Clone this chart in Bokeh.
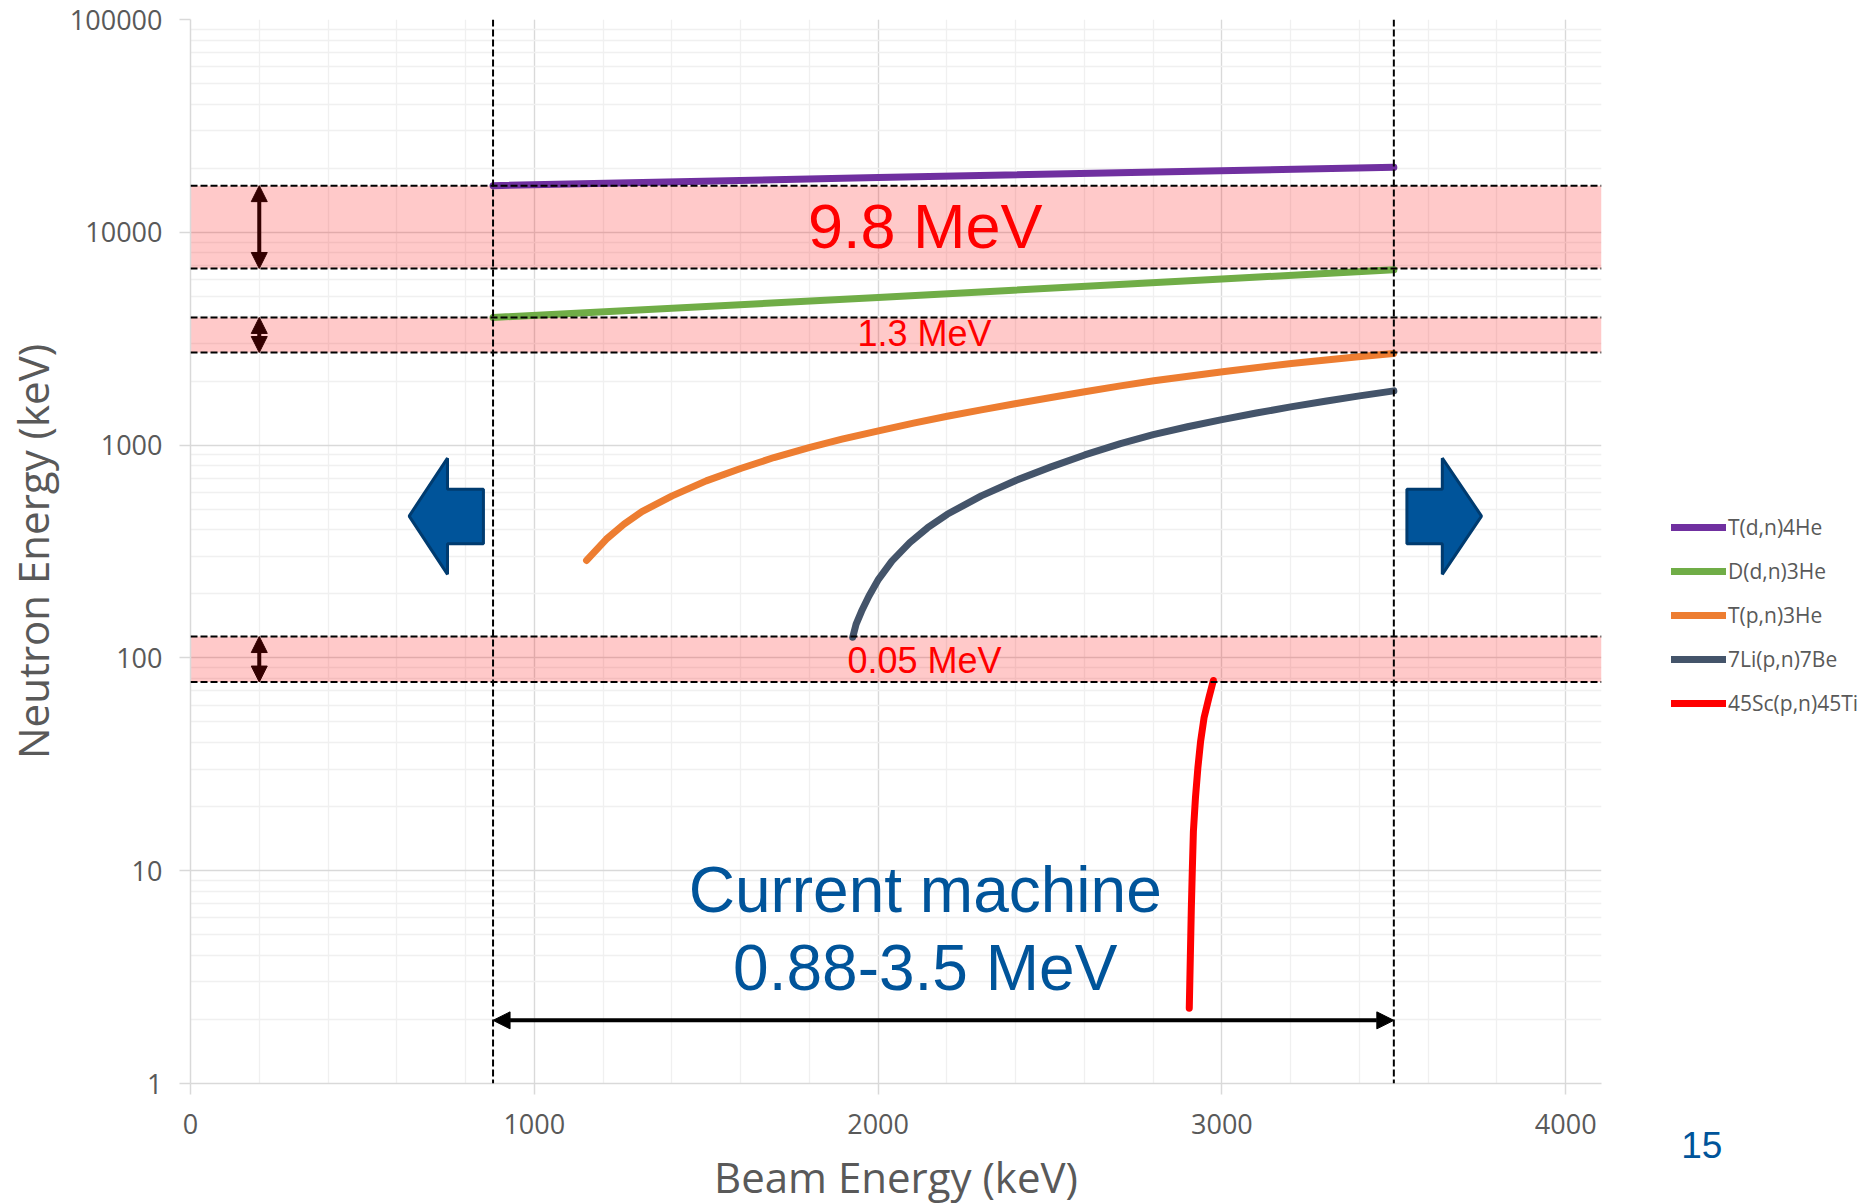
from bokeh.plotting import figure
from bokeh.models import (Range1d, FixedTicker, NumeralTickFormatter, Span, Arrow,
                          NormalHead, Label, Legend, LegendItem)
from bokeh.embed import file_html
from bokeh.resources import INLINE

# ---------------- data ----------------
series_names = ["T(d,n)4He", "D(d,n)3He", "T(p,n)3He", "7Li(p,n)7Be", "45Sc(p,n)45Ti"]
series_colors = ["#7030A0", "#70AD47", "#ED7D31", "#44546A", "#FF0000"]

# beam energy (keV) / neutron energy (keV)
tdn_beam = [880, 2000, 3500]
tdn_en = [16570, 18100, 20200]

ddn_beam = [880, 2000, 3000, 3500]
ddn_en = [3980, 4940, 6030, 6670]

tpn_beam = [1152, 1209, 1261, 1313, 1401, 1500, 1602, 1697, 1799, 1895, 2001, 2103,
            2201, 2300, 2402, 2503, 2601, 2705, 2802, 3002, 3202, 3404, 3499]
tpn_en = [287, 361, 425, 487, 577, 679, 778, 874, 974, 1066, 1167, 1268,
          1367, 1464, 1569, 1673, 1780, 1899, 2005, 2210, 2419, 2610, 2695]

lipn_beam = [1926, 1936, 1952, 1973, 2001, 2040, 2092, 2144, 2201, 2300, 2402, 2503,
             2601, 2705, 2800, 2900, 3000, 3100, 3200, 3300, 3400, 3500]
lipn_en = [125, 144, 166, 195, 234, 285, 348, 409, 473, 577, 684, 790,
           899, 1017, 1120, 1220, 1318, 1415, 1512, 1608, 1703, 1798]

scpn_beam = [2905, 2907, 2909, 2911, 2914, 2917, 2923, 2930, 2938, 2948, 2962, 2975]
scpn_en = [2.26, 3.24, 4.65, 6.68, 10.3, 15.3, 22.0, 30.4, 40.6, 52.3, 64.9, 78.3]

band_low = [6760, 2723, 77]
band_high = [16570, 3980, 126]
band_text = ["9.8 MeV", "1.3 MeV", "0.05 MeV"]
machine_range = [880, 3500]
machine_text = ["Current machine", "0.88-3.5 MeV"]
page_number = "15"

x_ticks = [0, 1000, 2000, 3000, 4000]
y_ticks = [1, 10, 100, 1000, 10000, 100000]

# ---------------- figure ----------------
GREY = "#595959"
BLUE = "#00549A"
RED = "#FF0000"
TXT_FONT = "Liberation Sans"
AX_FONT = "Open Sans"

p = figure(frame_width=1411, frame_height=1064,
           x_range=Range1d(0, 4104), y_range=Range1d(1, 100000),
           y_axis_type="log", output_backend="svg", toolbar_location=None,
           min_border_left=190, min_border_right=253, min_border_top=19,
           min_border_bottom=100)
p.outline_line_color = None
p.background_fill_color = "white"

xt = FixedTicker(ticks=x_ticks, minor_ticks=list(range(0, 4200, 200)))
yt = FixedTicker(ticks=y_ticks,
                 minor_ticks=[k * 10 ** d for d in range(5) for k in range(2, 10)])
p.xaxis.ticker = xt
p.yaxis.ticker = yt
p.xgrid.ticker = xt
p.ygrid.ticker = yt
p.yaxis.formatter = NumeralTickFormatter(format="0")
p.xaxis.formatter = NumeralTickFormatter(format="0")

for g in (p.xgrid, p.ygrid):
    g.grid_line_color = "#d9d9d9"
    g.grid_line_width = 1.3
    g.minor_grid_line_color = "#f0f0f0"
    g.minor_grid_line_width = 1.3

for ax in (p.xaxis, p.yaxis):
    ax.axis_line_color = "#d9d9d9"
    ax.axis_line_width = 1.5
    ax.major_tick_line_color = "#d9d9d9"
    ax.major_tick_line_width = 1.5
    ax.major_tick_out = 11
    ax.major_tick_in = 0
    ax.minor_tick_out = 0
    ax.minor_tick_in = 0
    ax.major_label_text_font = AX_FONT
    ax.major_label_text_font_size = "27px"
    ax.major_label_text_color = GREY
    ax.axis_label_text_font = AX_FONT
    ax.axis_label_text_font_size = "42px"
    ax.axis_label_text_color = GREY
    ax.axis_label_text_font_style = "normal"

p.xaxis.axis_label = "Beam Energy (keV)"
p.yaxis.axis_label = "Neutron Energy (keV)"
p.xaxis.major_label_standoff = 19
p.yaxis.major_label_standoff = 17
p.xaxis.axis_label_standoff = 11
p.yaxis.axis_label_standoff = 6

# ---------------- bands ----------------
p.quad(left=0, right=4104, bottom=band_low, top=band_high,
       fill_color=RED, fill_alpha=0.21, line_color=None)
for v in band_low + band_high:
    p.add_layout(Span(location=v, dimension="width", line_color="black",
                      line_width=2, line_dash="7 3"))
for v in machine_range:
    p.add_layout(Span(location=v, dimension="height", line_color="black",
                      line_width=2, line_dash="7 3"))

# vertical double arrows in the bands
AR = "#330000"
for lo, hi in zip(band_low, band_high):
    p.add_layout(Arrow(x_start=200, y_start=hi, x_end=200, y_end=lo,
                       line_color=AR, line_width=4,
                       start=NormalHead(size=16, fill_color=AR, line_color=AR),
                       end=NormalHead(size=16, fill_color=AR, line_color=AR)))

# horizontal machine range arrow
p.add_layout(Arrow(x_start=machine_range[0], y_start=1.98, x_end=machine_range[1], y_end=1.98,
                   line_color="black", line_width=4,
                   start=NormalHead(size=17, fill_color="black", line_color="black"),
                   end=NormalHead(size=17, fill_color="black", line_color="black")))

# blue block arrows
p.patch([636, 747.5, 747.5, 852, 852, 747.5, 747.5],
        [464, 868, 621, 621, 344, 344, 247],
        fill_color=BLUE, line_color="#003B6F", line_width=3)
p.patch([3538, 3641, 3641, 3755, 3641, 3641, 3538],
        [621, 621, 868, 464, 247, 344, 344],
        fill_color=BLUE, line_color="#003B6F", line_width=3)

# ---------------- series ----------------
xs = [tdn_beam, ddn_beam, tpn_beam, lipn_beam, scpn_beam]
ys = [tdn_en, ddn_en, tpn_en, lipn_en, scpn_en]
items = []
for name, col, x, y in zip(series_names, series_colors, xs, ys):
    r = p.line(x, y, line_color=col, line_width=7, line_cap="round", line_join="round")
    items.append(LegendItem(label=name, renderers=[r]))

legend = Legend(items=items, location=(70, 367), orientation="vertical",
                glyph_width=55, glyph_height=26, label_height=26, label_standoff=2,
                spacing=16, padding=0, margin=0, border_line_color=None,
                background_fill_alpha=0,
                label_text_font=AX_FONT, label_text_font_size="21px",
                label_text_color=GREY)

# the page number is shown as the legend title placed below the entries, if supported
page_done = False
try:
    legend.title_location = "below"
    legend.title = "\u00a0" + page_number
    legend.title_text_font = TXT_FONT
    legend.title_text_font_size = "37px"
    legend.title_text_color = BLUE
    legend.title_text_font_style = "normal"
    legend.title_standoff = 408
    legend.location = (70, -84)
    page_done = True
except Exception:
    legend.title = None
    legend.location = (70, 367)
p.add_layout(legend, "right")

if not page_done:
    ghost = p.line([0, 1], [1, 1], line_alpha=0)
    page_leg = Legend(items=[LegendItem(label=page_number, renderers=[ghost])],
                      location=(-107, -85), glyph_width=0, glyph_height=40,
                      label_height=40, label_width=41, label_standoff=0, padding=0,
                      margin=0, border_line_color=None, background_fill_alpha=0,
                      label_text_font=TXT_FONT, label_text_font_size="37px",
                      label_text_color=BLUE)
    p.add_layout(page_leg, "right")

# ---------------- texts ----------------
p.add_layout(Label(x=2137, y=10730, text=band_text[0], text_font=TXT_FONT,
                   text_font_size="63px", text_color=RED, text_align="center",
                   text_baseline="alphabetic"))
p.add_layout(Label(x=2135, y=3347, text=band_text[1], text_font=TXT_FONT,
                   text_font_size="36px", text_color=RED, text_align="center",
                   text_baseline="alphabetic"))
p.add_layout(Label(x=2135, y=97.7, text=band_text[2], text_font=TXT_FONT,
                   text_font_size="36px", text_color=RED, text_align="center",
                   text_baseline="alphabetic"))
p.add_layout(Label(x=2137, y=8.08, text=machine_text[0], text_font=TXT_FONT,
                   text_font_size="64px", text_color=BLUE, text_align="center",
                   text_baseline="alphabetic"))
p.add_layout(Label(x=2137, y=3.48, text=machine_text[1], text_font=TXT_FONT,
                   text_font_size="64px", text_color=BLUE, text_align="center",
                   text_baseline="alphabetic"))

open("out.html", "w").write(file_html(p, INLINE))
